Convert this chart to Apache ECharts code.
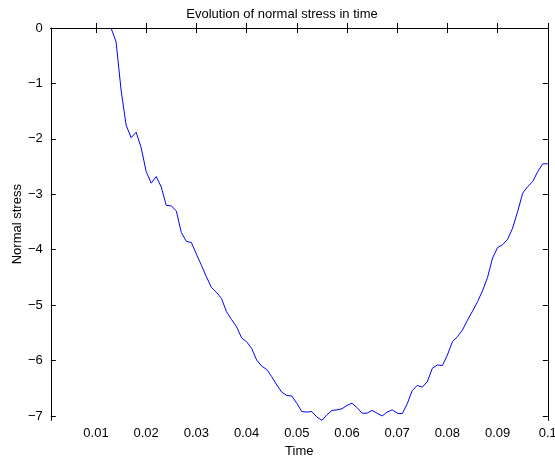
<!DOCTYPE html>
<html>
<head>
<meta charset="utf-8">
<script src="https://cdn.jsdelivr.net/npm/echarts@6/dist/echarts.min.js"></script>
<style>
  html, body { margin: 0; padding: 0; background: #fff; }
  #chart { width: 555px; height: 458px; }
</style>
</head>
<body>
<div id="chart"></div>
<script>
// Sampled time instants (s)
const time = [
  0.013, 0.014, 0.015, 0.016, 0.017, 0.018, 0.019, 0.020, 0.021, 0.022,
  0.023, 0.024, 0.025, 0.026, 0.027, 0.028, 0.029, 0.030, 0.031, 0.032,
  0.033, 0.034, 0.035, 0.036, 0.037, 0.038, 0.039, 0.040, 0.041, 0.042,
  0.043, 0.044, 0.045, 0.046, 0.047, 0.048, 0.049, 0.050, 0.051, 0.052,
  0.053, 0.054, 0.055, 0.056, 0.057, 0.058, 0.059, 0.060, 0.061, 0.062,
  0.063, 0.064, 0.065, 0.066, 0.067, 0.068, 0.069, 0.070, 0.071, 0.072,
  0.073, 0.074, 0.075, 0.076, 0.077, 0.078, 0.079, 0.080, 0.081, 0.082,
  0.083, 0.084, 0.085, 0.086, 0.087, 0.088, 0.089, 0.090, 0.091, 0.092,
  0.093, 0.094, 0.095, 0.096, 0.097, 0.098, 0.099, 0.100
];

// Normal stress at each instant
const stress = [
  0.00, -0.25, -1.12, -1.75, -1.98, -1.88, -2.16, -2.59, -2.80, -2.68,
  -2.87, -3.20, -3.21, -3.30, -3.69, -3.85, -3.87, -4.08, -4.28, -4.49,
  -4.68, -4.77, -4.88, -5.12, -5.26, -5.39, -5.59, -5.66, -5.78, -5.99,
  -6.10, -6.16, -6.29, -6.44, -6.57, -6.63, -6.64, -6.77, -6.92, -6.93,
  -6.92, -7.02, -7.08, -6.98, -6.90, -6.89, -6.87, -6.81, -6.77, -6.85,
  -6.95, -6.95, -6.90, -6.95, -7.00, -6.93, -6.89, -6.95, -6.96, -6.78,
  -6.54, -6.45, -6.48, -6.38, -6.14, -6.08, -6.09, -5.90, -5.66, -5.57,
  -5.45, -5.27, -5.11, -4.94, -4.74, -4.50, -4.15, -3.96, -3.91, -3.81,
  -3.61, -3.31, -2.98, -2.86, -2.77, -2.59, -2.45, -2.45
];

// Axis ranges and tick marks
const xRange = [0.001, 0.1];
const yRange = [-7.08, 0];
const xTickValues = [0.01, 0.02, 0.03, 0.04, 0.05, 0.06, 0.07, 0.08, 0.09, 0.1];
const xTickLabels = ['0.01', '0.02', '0.03', '0.04', '0.05', '0.06', '0.07', '0.08', '0.09', '0.1'];
const yTickValues = [-7, -6, -5, -4, -3, -2, -1, 0];
const yTickLabels = ['\u22127', '\u22126', '\u22125', '\u22124', '\u22123', '\u22122', '\u22121', '0'];

const FONT = 'Liberation Sans, Arial, Helvetica, sans-serif';
const FONT_SIZE = 13;

function labelFor(values, labels) {
  return function (v) {
    for (let i = 0; i < values.length; i++) {
      if (Math.abs(values[i] - v) < 1e-9) return labels[i];
    }
    return '';
  };
}

const axisLineStyle = { show: true, lineStyle: { color: '#000', width: 1 } };
const tickStyle = (vals) => ({ show: true, inside: true, length: 5, customValues: vals, lineStyle: { color: '#000', width: 1 } });

const chart = echarts.init(document.getElementById('chart'), null, { renderer: 'canvas' });

chart.setOption({
  animation: false,
  backgroundColor: '#fff',
  title: {
    text: 'Evolution of normal stress in time',
    left: 277,
    top: 3,
    textAlign: 'center',
    textStyle: { fontFamily: FONT, fontSize: FONT_SIZE, fontWeight: 'normal', color: '#000' }
  },
  grid: { left: 50.8, top: 28, width: 497, height: 392.4, containLabel: false, outerBoundsMode: 'none' },
  xAxis: [
    {
      type: 'value', position: 'bottom', min: xRange[0], max: xRange[1],
      axisLine: axisLineStyle,
      axisTick: tickStyle(xTickValues),
      splitLine: { show: false },
      axisLabel: {
        customValues: xTickValues,
        formatter: labelFor(xTickValues, xTickLabels),
        fontFamily: FONT, fontSize: FONT_SIZE, color: '#000', margin: 7
      },
      name: 'Time', nameLocation: 'middle', nameGap: 24,
      nameTextStyle: { fontFamily: FONT, fontSize: FONT_SIZE, color: '#000' }
    },
    {
      type: 'value', position: 'top', min: xRange[0], max: xRange[1],
      axisLine: axisLineStyle,
      axisTick: tickStyle(xTickValues),
      splitLine: { show: false },
      axisLabel: { show: false }
    }
  ],
  yAxis: [
    {
      type: 'value', position: 'left', min: yRange[0], max: yRange[1],
      axisLine: axisLineStyle,
      axisTick: tickStyle(yTickValues),
      splitLine: { show: false },
      axisLabel: {
        customValues: yTickValues,
        formatter: labelFor(yTickValues, yTickLabels),
        fontFamily: FONT, fontSize: FONT_SIZE, color: '#000', margin: 8
      },
      name: 'Normal stress', nameLocation: 'middle', nameGap: 27, nameRotate: 90,
      nameMoveOverlap: false,
      nameTextStyle: { fontFamily: FONT, fontSize: FONT_SIZE, color: '#000' }
    },
    {
      type: 'value', position: 'right', min: yRange[0], max: yRange[1],
      axisLine: axisLineStyle,
      axisTick: tickStyle(yTickValues),
      splitLine: { show: false },
      axisLabel: { show: false }
    }
  ],
  series: [{
    type: 'line',
    xAxisIndex: 0,
    yAxisIndex: 0,
    data: time.map((t, i) => [t, stress[i]]),
    showSymbol: false,
    symbol: 'none',
    clip: true,
    lineStyle: { color: '#0000ff', width: 1 }
  }]
});
</script>
</body>
</html>
